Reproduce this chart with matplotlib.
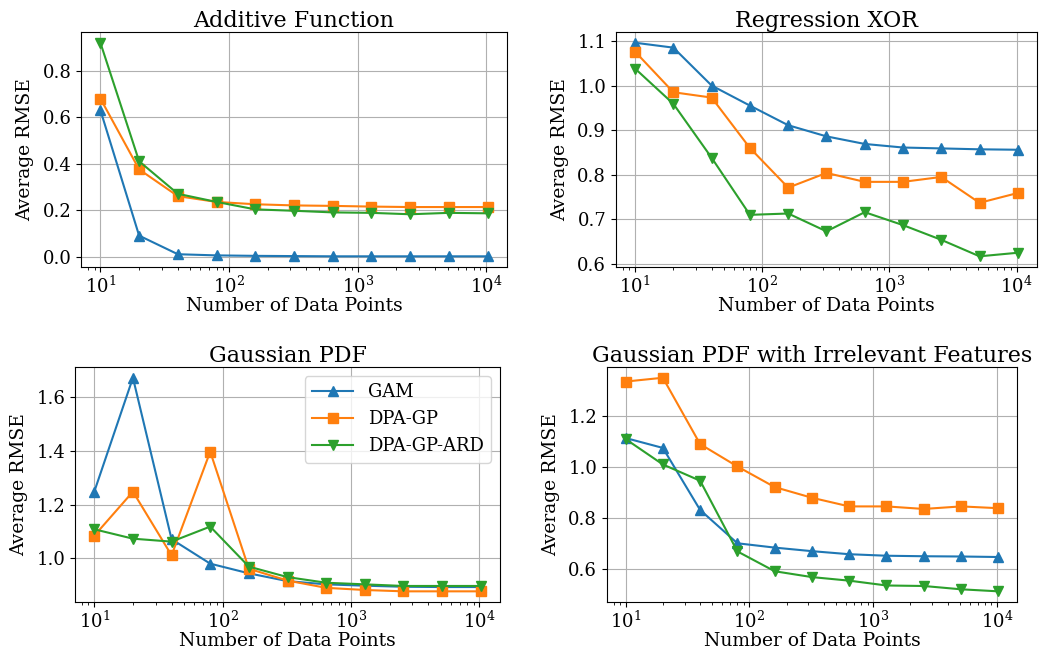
import matplotlib
matplotlib.use("Agg")
import matplotlib.pyplot as plt

plt.rcParams.update({
    "font.family": "DejaVu Serif",
    "font.size": 13,
    "axes.titlesize": 16,
    "axes.labelsize": 13.5,
    "xtick.labelsize": 13,
    "ytick.labelsize": 13,
    "legend.fontsize": 13,
})

n_points = [10, 20, 40, 80, 160, 320, 640, 1280, 2560, 5120, 10240]
methods = ["GAM", "DPA-GP", "DPA-GP-ARD"]
markers = ["^", "s", "v"]
colors = ["#1f77b4", "#ff7f0e", "#2ca02c"]

additive_gam = [0.63, 0.09, 0.01, 0.005, 0.003, 0.002, 0.001, 0.001, 0.001, 0.001, 0.001]
additive_dpa = [0.68, 0.375, 0.26, 0.235, 0.225, 0.22, 0.218, 0.215, 0.213, 0.213, 0.213]
additive_ard = [0.92, 0.41, 0.27, 0.235, 0.203, 0.197, 0.19, 0.188, 0.182, 0.188, 0.186]

xor_gam = [1.096, 1.085, 1.0, 0.955, 0.911, 0.886, 0.869, 0.861, 0.859, 0.857, 0.856]
xor_dpa = [1.076, 0.985, 0.973, 0.86, 0.771, 0.804, 0.784, 0.784, 0.795, 0.737, 0.759]
xor_ard = [1.038, 0.959, 0.838, 0.71, 0.713, 0.673, 0.716, 0.687, 0.654, 0.617, 0.625]

gauss_gam = [1.248, 1.672, 1.071, 0.98, 0.944, 0.915, 0.903, 0.898, 0.894, 0.893, 0.893]
gauss_dpa = [1.084, 1.248, 1.011, 1.397, 0.961, 0.917, 0.89, 0.882, 0.877, 0.877, 0.877]
gauss_ard = [1.108, 1.073, 1.062, 1.118, 0.969, 0.93, 0.909, 0.903, 0.897, 0.897, 0.897]

irr_gam = [1.115, 1.076, 0.832, 0.701, 0.684, 0.67, 0.658, 0.652, 0.65, 0.649, 0.647]
irr_dpa = [1.337, 1.352, 1.091, 1.003, 0.922, 0.88, 0.846, 0.846, 0.836, 0.846, 0.839]
irr_ard = [1.111, 1.011, 0.947, 0.669, 0.591, 0.568, 0.554, 0.535, 0.533, 0.52, 0.512]

panels = [
    ("Additive Function", [additive_gam, additive_dpa, additive_ard], [0.0774, 0.5886, 0.4068, 0.362]),
    ("Regression XOR", [xor_gam, xor_dpa, xor_ard], [0.5883, 0.5886, 0.4021, 0.362]),
    ("Gaussian PDF", [gauss_gam, gauss_dpa, gauss_ard], [0.0716, 0.0724, 0.4060, 0.362]),
    ("Gaussian PDF with Irrelevant Features", [irr_gam, irr_dpa, irr_ard], [0.5797, 0.0724, 0.3916, 0.362]),
]

fig = plt.figure(figsize=(10.47, 6.49), dpi=100)

for i, (title, series, rect) in enumerate(panels):
    ax = fig.add_axes(rect)
    for name, vals, mk, col in zip(methods, series, markers, colors):
        ax.plot(n_points, vals, marker=mk, color=col, label=name, lw=1.5, ms=6.5)
    ax.set_xscale("log")
    ax.set_title(title, pad=4)
    ax.set_xlabel("Number of Data Points", labelpad=0)
    ax.set_ylabel("Average RMSE", labelpad=6)
    ax.tick_params(axis="x", pad=3)
    ax.grid(True)
    if i == 2:
        ax.legend(loc="upper right", handlelength=2.3)

fig.savefig("out.png", dpi=100)
